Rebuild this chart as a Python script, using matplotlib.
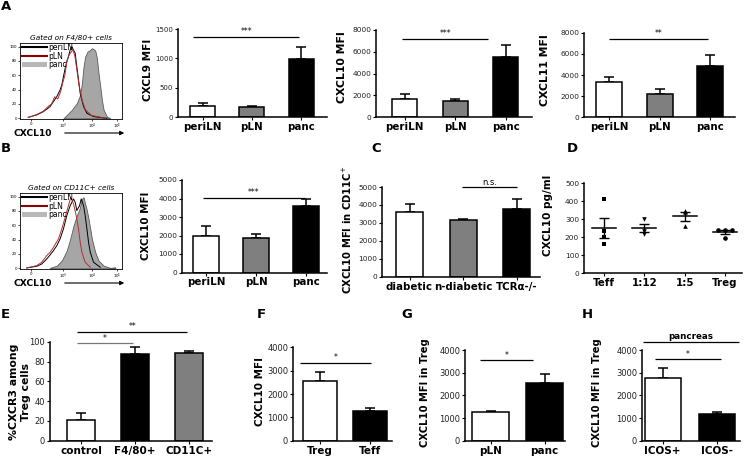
import numpy as np
import matplotlib
matplotlib.use('Agg')
import matplotlib.pyplot as plt
from matplotlib.patches import Patch
from matplotlib.lines import Line2D

# ---------------- data ----------------
regions = ["periLN", "pLN", "panc"]
cxcl9_mfi = [190, 165, 990]
cxcl9_sem = [45, 25, 205]
cxcl10_mfi_f480 = [1630, 1475, 5560]
cxcl10_sem_f480 = [460, 215, 1050]
cxcl11_mfi = [3350, 2180, 4890]
cxcl11_sem = [500, 470, 1010]

cxcl10_mfi_cd11c = [2000, 1850, 3580]
cxcl10_sem_cd11c = [500, 250, 400]

mouse_groups = ["diabetic", "n-diabetic", "TCRα-/-"]
cd11c_mfi = [3600, 3150, 3790]
cd11c_sem = [450, 40, 540]

coculture = ["Teff", "1:12", "1:5", "Treg"]
pg_teff = [413, 235, 200, 165]
pg_1_12 = [300, 235, 220]
pg_1_5 = [345, 338, 265]
pg_treg = [240, 238, 240, 195]

apc_groups = ["control", "F4/80+", "CD11C+"]
cxcr3_pct = [21, 87.5, 88.9]
cxcr3_sem = [7.4, 7.5, 1.6]

cell_types = ["Treg", "Teff"]
f_mfi = [2560, 1290]
f_sem = [385, 100]

sites = ["pLN", "panc"]
g_mfi = [1280, 2560]
g_sem = [45, 370]

icos_groups = ["ICOS+", "ICOS-"]
h_mfi = [2760, 1190]
h_sem = [460, 75]

# histogram traces (x in % of axis, y in % of max)
hA_peri_x = [8.2, 16.4, 23, 29.5, 32.8, 36.1, 39.3, 41, 42.6, 44.3, 45.9, 47.5, 49.2, 50.8, 54.1, 55.7, 57.4, 59, 62.3, 65.6, 72.1, 85.2]
hA_peri_y = [1.4, 4.7, 9.3, 16.3, 23.3, 30.2, 39.5, 46.5, 58.1, 69.8, 79.1, 86, 95.3, 100, 90.7, 72.1, 53.5, 34.9, 16.3, 7, 2.3, 0]
hA_pln_x = [8, 16, 23, 28, 31, 34, 37, 40, 42, 44, 46, 48, 50, 52, 54, 56, 58, 61, 64, 70, 84]
hA_pln_y = [1, 5, 10, 17, 20, 30, 27, 38, 50, 60, 80, 88, 92, 96, 85, 65, 45, 25, 12, 4, 0]
hA_panc_x = [42.6, 45.9, 50.8, 55.7, 59, 60.7, 62.3, 63.9, 66.2, 68.9, 70.5, 72.1, 73.8, 75.4, 77, 78.7, 80.3, 82, 85.2, 88.5]
hA_panc_y = [0, 4.7, 11.6, 20.9, 32.6, 48.8, 72.1, 86, 93, 95.3, 97.7, 96.3, 94.4, 83.7, 62.8, 44.2, 25.6, 11.6, 2.3, 0]

hB_peri_x = [6.6, 16.4, 21.3, 26.2, 29.5, 32.8, 36.1, 39.3, 42.6, 45.9, 49.2, 52.5, 54.1, 55.7, 58.4, 60, 62.3, 63.9, 65.6, 67.2, 68.9, 72.1, 78.7]
hB_peri_y = [0.5, 2.8, 6, 13, 18.6, 24.7, 31.6, 40.9, 54.9, 73.5, 87.4, 96.7, 92.1, 80.5, 87.4, 96.7, 87.4, 73.5, 54.9, 36.3, 22.3, 8.4, 1.4]
hB_pln_x = [6.6, 16.4, 21.3, 26.2, 29.5, 32.8, 37.7, 41, 44.3, 47.5, 49.8, 52.5, 55.1, 57.4, 59, 60.7, 63.9, 68.9]
hB_pln_y = [0.5, 3.7, 8.4, 17.7, 22.3, 29.3, 40.9, 54.9, 71.2, 87.4, 99.1, 89.8, 73.5, 54.9, 36.3, 22.3, 8.4, 1.4]
hB_panc_x = [29.5, 36.1, 41, 45.9, 49.2, 52.5, 55.7, 58.4, 60.7, 62.3, 63.9, 65.6, 67.2, 68.9, 70.5, 73.8, 77, 82, 88.5, 93.4]
hB_panc_y = [0.5, 3.7, 10.7, 24.7, 40.9, 59.5, 73.5, 82.8, 96.7, 99.1, 89.8, 80.5, 68.8, 54.9, 40.9, 22.3, 10.7, 3.7, 0.5, 1.4]
hist_xtick_labels = ["0", "10$^3$", "10$^4$", "10$^5$"]

# ---------------- figure ----------------
W, H = 745, 457
fig = plt.figure(figsize=(W / 100, H / 100), dpi=100)
WHITE, GREY, BLACK = "white", "#7f7f7f", "black"


def fx(x):
    return x / W


def fy(y):
    return 1 - y / H


def add_ax(L, R, top, bottom):
    return fig.add_axes([fx(L), fy(bottom), (R - L) / W, (bottom - top) / H])


def style_axes(ax, tick_fs):
    for s in ["top", "right"]:
        ax.spines[s].set_visible(False)
    for s in ["left", "bottom"]:
        ax.spines[s].set_linewidth(1.1)
    ax.tick_params(axis="y", direction="out", length=2.5, width=0.8, labelsize=tick_fs,
                   pad=1, labelcolor="#222222")
    ax.tick_params(axis="x", direction="out", length=2, width=0.8, pad=1.5)


def sig(ax, x1, x2, y, label, color="black", fs=5.5, weight="normal"):
    ax.plot([x1, x2], [y, y], color=color, lw=0.9, clip_on=False, solid_capstyle="butt")
    ax.annotate(label, xy=((x1 + x2) / 2, y), xytext=(0, 0.3), textcoords="offset points",
                ha="center", va="bottom", fontsize=fs, fontweight=weight, annotation_clip=False)


def bar_panel(L, R, y0, ytop, ymax, ystep, c0, step, bw, cats, vals, errs, colors,
              tick_fs=5.3, cat_fs=7.4):
    ax = add_ax(L, R, ytop, y0)
    n = len(cats)
    x = np.arange(n)
    ax.set_xlim((L - c0) / step, (R - c0) / step)
    ax.set_ylim(0, ymax)
    ax.bar(x, vals, width=bw / step, color=colors, edgecolor="black", linewidth=1.1, zorder=2)
    ax.errorbar(x, vals, yerr=[np.zeros(n), errs], fmt="none", ecolor="black",
                elinewidth=1.1, capsize=3.8, capthick=1.1, zorder=1)
    ax.set_yticks(np.arange(0, ymax + 1, ystep))
    ax.set_xticks(x)
    ax.set_xticklabels(cats, fontweight="bold", fontsize=cat_fs)
    style_axes(ax, tick_fs)
    return ax


def hist_panel(L, R, top, bottom, title, px, py, rx, ry, gx, gy):
    ax = add_ax(L, R, top, bottom)
    ax.fill_between(gx, gy, color="#a6a6a6", edgecolor="#5a5a5a", linewidth=0.6, zorder=1)
    ax.plot(px, py, color="black", lw=0.7, zorder=3)
    ax.plot(rx, ry, color="#b03030", lw=0.7, zorder=4)
    ax.set_xlim(0, 100)
    ax.set_ylim(-1, 105)
    ax.set_yticks([0, 20, 40, 60, 80, 100])
    ax.set_xticks([10.5, 42.6, 70.5, 95])
    ax.set_xticklabels(hist_xtick_labels)
    ax.tick_params(labelsize=2.8, length=1.5, width=0.5, pad=0.8)
    for s in ax.spines.values():
        s.set_linewidth(0.6)
    ax.set_title(title, fontsize=5.3, style="italic", pad=2)
    handles = [Line2D([], [], color="black", lw=1.5), Line2D([], [], color="#8b0000", lw=1.5),
               Patch(facecolor="#b8b8b8", edgecolor="none")]
    ax.legend(handles, ["periLN", "pLN", "panc"], loc="upper left", bbox_to_anchor=(0.0, 1.03),
              fontsize=5.5, frameon=False, handlelength=3.2, handleheight=0.6,
              handletextpad=0.2, labelspacing=-0.05, borderpad=0.2, borderaxespad=0.1)
    return ax


def xlabel_arrow(ytxt):
    fig.text(fx(14), fy(ytxt), "CXCL10", fontsize=6.6, fontweight="bold", ha="left", va="center")
    fig.add_artist(matplotlib.patches.FancyArrowPatch((fx(62), fy(ytxt)), (fx(127), fy(ytxt)),
                                                      transform=fig.transFigure, arrowstyle="-|>",
                                                      mutation_scale=6, lw=0.8, color="black"))


def ylab(x, y, text, fs=7.8):
    fig.text(fx(x), fy(y), text, rotation=90, ha="center", va="center", fontsize=fs,
             fontweight="bold", linespacing=1.15)


def letter(x, y, t):
    fig.text(fx(x), fy(y), t, fontsize=9.5, fontweight="bold", ha="center", va="center")


# ---- Row A ----
hist_panel(20, 122, 43, 119, "Gated on F4/80+ cells", hA_peri_x, hA_peri_y, hA_pln_x, hA_pln_y,
           hA_panc_x, hA_panc_y)
xlabel_arrow(133)

ax = bar_panel(178, 327, 117, 29, 1500, 500, 202.5, 49.3, 25, regions, cxcl9_mfi, cxcl9_sem,
               [WHITE, GREY, BLACK], tick_fs=5.0)
sig(ax, -0.19, 1.96, 1369, "***")
ylab(148, 70, "CXCL9 MFI", fs=7.6)

ax = bar_panel(376, 532, 117, 30, 8000, 2000, 404.5, 50.7, 25, regions, cxcl10_mfi_f480,
               cxcl10_sem_f480, [WHITE, GREY, BLACK])
sig(ax, -0.05, 1.65, 7200, "***")
ylab(342, 67, "CXCL10 MFI")

ax = bar_panel(584, 735, 117.3, 32.7, 8000, 2000, 609, 50.5, 26, regions, cxcl11_mfi, cxcl11_sem,
               [WHITE, GREY, BLACK])
sig(ax, 0.0, 1.96, 7433, "**")
ylab(545, 70, "CXCL11 MFI")

# ---- Row B ----
hist_panel(20, 122, 193, 269, "Gated on CD11C+ cells", hB_peri_x, hB_peri_y, hB_pln_x, hB_pln_y,
           hB_panc_x, hB_panc_y)
xlabel_arrow(283)

ax = bar_panel(182, 327, 272.5, 180, 5000, 1000, 206, 50, 26, regions, cxcl10_mfi_cd11c,
               cxcl10_sem_cd11c, [WHITE, GREY, BLACK])
sig(ax, -0.06, 1.98, 4043, "***")
ylab(146, 226, "CXCL10 MFI", fs=7.4)

ax = bar_panel(382, 540, 276.7, 187, 5000, 1000, 409.5, 53.5, 27, mouse_groups, cd11c_mfi,
               cd11c_sem, [WHITE, GREY, BLACK], cat_fs=7.4)
sig(ax, 0.99, 2.0, 4983, "n.s.", fs=6)
ylab(347, 230, "CXCL10 MFI in CD11C$^{+}$", fs=7.2)

# D: scatter with mean +/- SEM
axd = add_ax(584, 742, 183.3, 273.3)
c0, stp = 604, 40.3
axd.set_xlim((584 - c0) / stp, (742 - c0) / stp)
axd.set_ylim(0, 500)
d_groups = [pg_teff, pg_1_12, pg_1_5, pg_treg]
d_markers = ["s", "v", "^", "o"]
d_offsets = [[0, 0, 0, 0], [0, 0, 0], [0, 0, 0], [-0.17, 0, 0.17, 0]]
for i, (vals, mk, off) in enumerate(zip(d_groups, d_markers, d_offsets)):
    vals = np.array(vals, dtype=float)
    axd.scatter(i + np.array(off), vals, marker=mk, s=11, color="black", zorder=3, linewidths=0)
    m = vals.mean()
    sem = vals.std(ddof=1) / np.sqrt(len(vals))
    axd.plot([i - 0.3, i + 0.3], [m, m], color="black", lw=1.1, zorder=2)
    axd.errorbar(i, m, yerr=sem, fmt="none", ecolor="black", elinewidth=1.0, capsize=3.5,
                 capthick=1.0, zorder=2)
axd.set_yticks(np.arange(0, 501, 100))
axd.set_xticks(range(4))
axd.set_xticklabels(coculture, fontweight="bold", fontsize=7.4)
style_axes(axd, 5.3)
ylab(548, 215, "CXCL10 pg/ml", fs=7.6)

# ---- Row 3 ----
ax = bar_panel(50, 212, 440.7, 341.7, 100, 20, 81, 54.2, 28, apc_groups, cxcr3_pct, cxcr3_sem,
               [WHITE, BLACK, GREY], tick_fs=6, cat_fs=7.5)
sig(ax, -0.07, 1.96, 110.1, "**")
sig(ax, -0.07, 0.96, 98.4, "*", color="#777777")
ylab(20, 392, "%CXCR3 among\nTreg cells", fs=7.8)

ax = bar_panel(293, 392, 440.7, 347.3, 4000, 1000, 320, 50, 34, cell_types, f_mfi, f_sem,
               [WHITE, BLACK], tick_fs=6, cat_fs=7.5)
sig(ax, -0.4, 1.02, 3340, "*")
ylab(260, 392, "CXCL10 MFI", fs=7.5)

ax = bar_panel(465, 565, 440.7, 350, 4000, 1000, 490.5, 54, 37, sites, g_mfi, g_sem,
               [WHITE, BLACK], tick_fs=6, cat_fs=7.5)
sig(ax, -0.19, 0.79, 3559, "*")
ylab(425, 393, "CXCL10 MFI in Treg", fs=7.2)

ax = bar_panel(642, 740, 440.7, 350, 4000, 1000, 662.5, 54, 36, icos_groups, h_mfi, h_sem,
               [WHITE, BLACK], tick_fs=6, cat_fs=7.5)
sig(ax, -0.36, 1.42, 4366, "pancreas", fs=6.3, weight="bold")
sig(ax, -0.14, 1.08, 3603, "*")
ylab(597, 393, "CXCL10 MFI in Treg", fs=7.2)

# panel letters
for (x, y, t) in [(6, 7, "A"), (6, 148, "B"), (376, 148, "C"), (572, 148, "D"),
                  (5, 314, "E"), (261, 314, "F"), (407, 314, "G"), (587, 314, "H")]:
    letter(x, y, t)

fig.savefig("out.png", dpi=100)
